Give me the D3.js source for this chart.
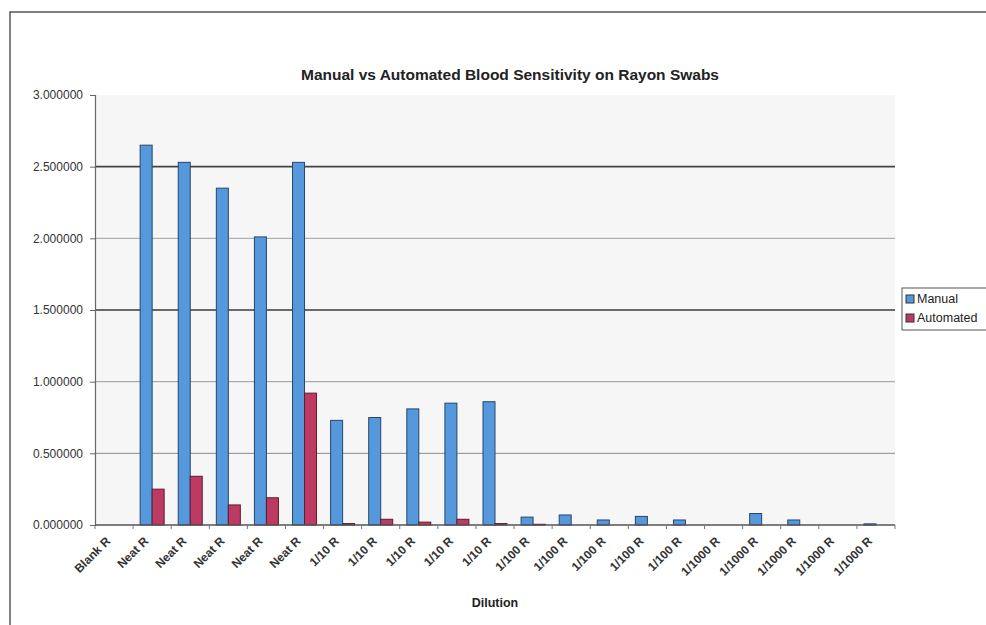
<!DOCTYPE html>
<html>
<head>
<meta charset="utf-8">
<script src="https://cdn.jsdelivr.net/npm/d3@7"></script>
<style>
  html, body { margin: 0; padding: 0; background: #fff; }
  svg { display: block; font-family: "Liberation Sans", Arial, sans-serif; }
</style>
</head>
<body>
<svg id="chart" width="986" height="625"></svg>
<script>
// Dilution categories (one per swab)
const categories = [
  "Blank R",
  "Neat R", "Neat R", "Neat R", "Neat R", "Neat R",
  "1/10 R", "1/10 R", "1/10 R", "1/10 R", "1/10 R",
  "1/100 R", "1/100 R", "1/100 R", "1/100 R", "1/100 R",
  "1/1000 R", "1/1000 R", "1/1000 R", "1/1000 R", "1/1000 R"
];
const seriesNames = ["Manual", "Automated"];
const manualValues = [0, 2.65, 2.53, 2.35, 2.01, 2.53, 0.73, 0.75, 0.81, 0.85, 0.86,
  0.055, 0.07, 0.035, 0.06, 0.035, 0, 0.08, 0.035, 0, 0.008];
const automatedValues = [0, 0.25, 0.34, 0.14, 0.19, 0.92, 0.01, 0.04, 0.02, 0.04, 0.01,
  0.005, 0, 0, 0, 0, 0, 0, 0, 0, 0];
const yTicks = [0, 0.5, 1.0, 1.5, 2.0, 2.5, 3.0];

const colors = { Manual: "#5599dc", Automated: "#bd3a62" };
const strokes = { Manual: "#26466b", Automated: "#5a1d32" };

const svg = d3.select("#chart");

// Chart frame
svg.append("path")
  .attr("d", "M10,625 L10,12 L986,12")
  .attr("fill", "none").attr("stroke", "#555").attr("stroke-width", 1.5);

const plot = { left: 95, right: 895, top: 95, bottom: 525 };

const x = d3.scaleBand()
  .domain(d3.range(categories.length))
  .range([plot.left, plot.right])
  .padding(0);

const xSub = d3.scaleBand()
  .domain(seriesNames)
  .range([0, x.bandwidth()])
  .paddingInner(0)
  .paddingOuter(0.5875);

const y = d3.scaleLinear().domain([0, 3]).range([plot.bottom, plot.top]);

// Plot area
svg.append("rect")
  .attr("x", plot.left).attr("y", plot.top)
  .attr("width", plot.right - plot.left).attr("height", plot.bottom - plot.top)
  .attr("fill", "#f6f6f6");

// Gridlines
const gridStyle = { 0.5: ["#8a8a8a", 1], 1: ["#9a9a9a", 1], 1.5: ["#3a3a3a", 1.6], 2: ["#a0a0a0", 1], 2.5: ["#444", 1.8] };
svg.append("g").selectAll("line")
  .data(yTicks.filter(d => d > 0 && d < 3))
  .join("line")
  .attr("x1", plot.left).attr("x2", plot.right)
  .attr("y1", d => y(d)).attr("y2", d => y(d))
  .attr("stroke", d => gridStyle[d][0])
  .attr("stroke-width", d => gridStyle[d][1]);

// Bars
const groups = svg.append("g").selectAll("g")
  .data(categories.map((c, i) => ({ i, Manual: manualValues[i], Automated: automatedValues[i] })))
  .join("g")
  .attr("transform", d => `translate(${x(d.i)},0)`);

groups.selectAll("rect")
  .data(d => seriesNames.map(k => ({ key: k, value: d[k] })).filter(v => v.value > 0))
  .join("rect")
  .attr("x", d => xSub(d.key))
  .attr("width", xSub.bandwidth())
  .attr("y", d => y(d.value))
  .attr("height", d => y(0) - y(d.value))
  .attr("fill", d => colors[d.key])
  .attr("stroke", d => strokes[d.key])
  .attr("stroke-width", 1);

// Y axis
const yAxis = d3.axisLeft(y)
  .tickValues(yTicks)
  .tickFormat(d3.format(".6f"))
  .tickSize(5)
  .tickPadding(7);
const yg = svg.append("g").attr("transform", `translate(${plot.left},0)`).call(yAxis);
yg.select(".domain").attr("stroke", "#666").attr("stroke-width", 1.2);
yg.selectAll(".tick line").attr("stroke", "#666");
yg.selectAll(".tick text")
  .attr("font-size", 12).attr("fill", "#333")
  .attr("font-family", "'Liberation Sans', Arial, sans-serif");

// X axis baseline and ticks
const xg = svg.append("g").attr("transform", `translate(0,${plot.bottom})`);
xg.append("line")
  .attr("x1", plot.left).attr("x2", plot.right)
  .attr("stroke", "#555").attr("stroke-width", 1.5);
xg.selectAll("line.tk")
  .data(d3.range(categories.length + 1))
  .join("line").attr("class", "tk")
  .attr("x1", i => plot.left + i * x.step()).attr("x2", i => plot.left + i * x.step())
  .attr("y1", 0).attr("y2", 4)
  .attr("stroke", "#777");

xg.selectAll("text")
  .data(categories.map((c, i) => ({ c, i })))
  .join("text")
  .attr("transform", d => `translate(${x(d.i) + x.bandwidth() / 2 - 6},${14}) rotate(-45)`)
  .attr("text-anchor", "end")
  .attr("dy", "0.35em")
  .attr("font-size", 12)
  .attr("font-weight", "bold")
  .attr("fill", "#333")
  .text(d => d.c);

// Titles
svg.append("text")
  .attr("x", 510).attr("y", 80)
  .attr("text-anchor", "middle")
  .attr("font-size", 15.5).attr("font-weight", "bold").attr("fill", "#222")
  .text("Manual vs Automated Blood Sensitivity on Rayon Swabs");

svg.append("text")
  .attr("x", 495).attr("y", 607)
  .attr("text-anchor", "middle")
  .attr("font-size", 12.5).attr("font-weight", "bold").attr("fill", "#222")
  .text("Dilution");

// Legend
const lg = svg.append("g").attr("transform", "translate(902,288)");
lg.append("rect")
  .attr("width", 90).attr("height", 42)
  .attr("fill", "#fff").attr("stroke", "#555").attr("stroke-width", 1);
lg.selectAll("g")
  .data(seriesNames)
  .join("g")
  .attr("transform", (d, i) => `translate(4,${11 + i * 19})`)
  .each(function (d) {
    const g = d3.select(this);
    g.append("rect").attr("x", 0).attr("y", -4).attr("width", 8).attr("height", 8)
      .attr("fill", colors[d]).attr("stroke", "#333");
    g.append("text").attr("x", 11).attr("dy", "0.35em")
      .attr("font-size", 12.5).attr("fill", "#222").text(d);
  });
</script>
</body>
</html>
